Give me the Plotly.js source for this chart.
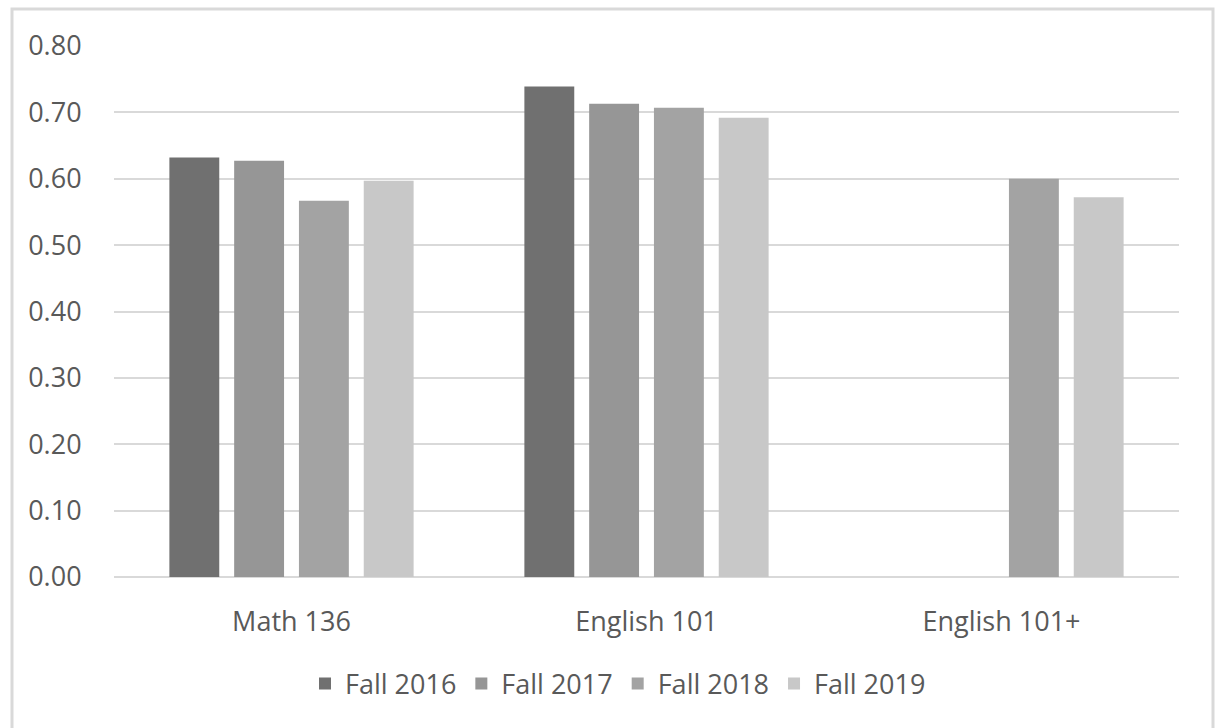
<!DOCTYPE html>
<html>
<head>
<meta charset="utf-8">
<script src="https://cdn.plot.ly/plotly-3.0.1.min.js"></script>
<style>html,body{margin:0;padding:0;background:#fff;}#chart{width:1215px;height:728px;}</style>
</head>
<body>
<div id="chart"></div>
<script>
const categories = ['Math 136', 'English 101', 'English 101+'];
const seriesNames = ['Fall 2016', 'Fall 2017', 'Fall 2018', 'Fall 2019'];
const fall2016 = [0.632, 0.739, null];
const fall2017 = [0.627, 0.713, null];
const fall2018 = [0.567, 0.707, 0.600];
const fall2019 = [0.597, 0.692, 0.572];
const seriesColors = ['#707070', '#969696', '#a3a3a3', '#c8c8c8'];

const allValues = [fall2016, fall2017, fall2018, fall2019];
const traces = allValues.map((vals, i) => ({
  type: 'bar',
  name: seriesNames[i],
  x: categories,
  y: vals,
  marker: {color: seriesColors[i]},
  hoverinfo: 'none'
}));

const W = 1215, H = 728;
const m = {l: 114, r: 36, t: 46, b: 151};
const pw = W - m.l - m.r, ph = H - m.t - m.b;
const px = v => (v - m.l) / pw;
const py = v => (H - m.b - v) / ph;
const FS = 27;

const layout = {
  width: W, height: H,
  margin: m,
  paper_bgcolor: '#ffffff',
  plot_bgcolor: '#ffffff',
  font: {family: 'Open Sans, sans-serif', size: FS, color: '#595959'},
  barmode: 'group',
  bargap: 0.27,
  bargroupgap: 0.23,
  showlegend: true,
  legend: {
    orientation: 'h', x: px(618), xanchor: 'center', y: py(684), yanchor: 'middle',
    font: {family: 'Open Sans, sans-serif', size: FS, color: '#595959'},
    traceorder: 'normal', itemwidth: 30
  },
  xaxis: {
    type: 'category',
    showgrid: false, zeroline: false, showline: false,
    ticks: 'outside', ticklen: 21, tickcolor: 'rgba(0,0,0,0)',
    tickfont: {size: FS, color: '#595959'}
  },
  yaxis: {
    range: [0, 0.8], dtick: 0.1, tick0: 0, tickformat: '.2f',
    showgrid: true, gridcolor: '#d9d9d9', gridwidth: 2,
    zeroline: true, zerolinecolor: '#d9d9d9', zerolinewidth: 2,
    showline: false,
    ticks: 'outside', ticklen: 26, tickcolor: 'rgba(0,0,0,0)',
    tickfont: {size: FS, color: '#595959'}
  },
  shapes: [{
    type: 'rect', xref: 'paper', yref: 'paper', layer: 'below',
    x0: px(12), x1: px(1213), y0: py(740), y1: py(9),
    line: {color: '#d9d9d9', width: 3}, fillcolor: 'rgba(0,0,0,0)'
  }]
};

Plotly.newPlot('chart', traces, layout, {staticPlot: true, displayModeBar: false});
</script>
</body>
</html>
